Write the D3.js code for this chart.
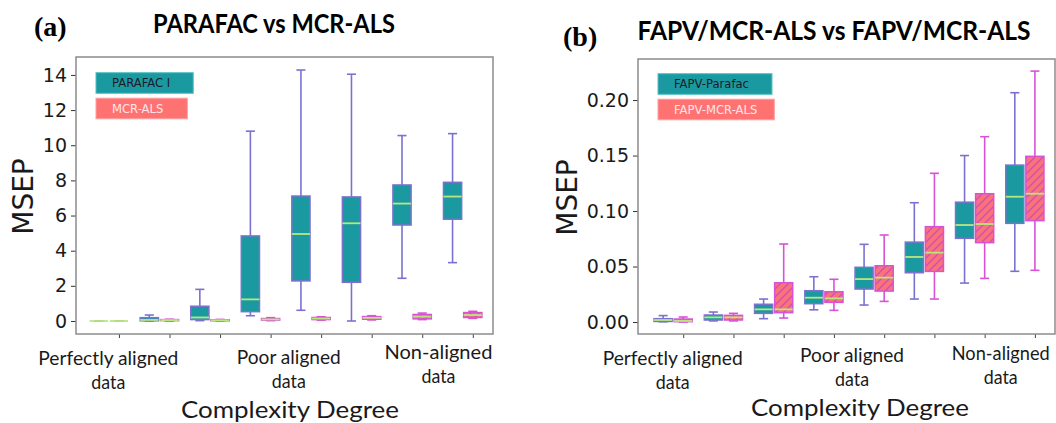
<!DOCTYPE html>
<html><head><meta charset="utf-8">
<script src="https://cdn.jsdelivr.net/npm/d3@7"></script>
<style>
html,body{margin:0;padding:0;background:#fff;}
svg{display:block;}
</style></head>
<body>
<svg id="chart" width="1056" height="423"></svg>
<script>
// ---------- data ----------
// each box: [whiskerLow, q1, median, q3, whiskerHigh]
const positions = [1, 2, 3, 4, 5, 6, 7, 8];
const parafacA = [
  [0, 0, 0, 0, 0],
  [0, 0.01, 0.06, 0.19, 0.34],
  [0.02, 0.08, 0.2, 0.84, 1.8],
  [0.3, 0.53, 1.23, 4.84, 10.8],
  [0.61, 2.28, 4.95, 7.11, 14.28],
  [0.0, 2.2, 5.56, 7.06, 14.04],
  [2.43, 5.46, 6.68, 7.74, 10.55],
  [3.32, 5.79, 7.08, 7.89, 10.66]
];
const mcrA = [
  [0, 0, 0, 0, 0],
  [0.0, 0.02, 0.05, 0.08, 0.1],
  [0.0, 0.01, 0.04, 0.07, 0.09],
  [0.02, 0.05, 0.09, 0.14, 0.19],
  [0.05, 0.08, 0.14, 0.2, 0.24],
  [0.06, 0.1, 0.18, 0.25, 0.3],
  [0.08, 0.12, 0.25, 0.37, 0.45],
  [0.15, 0.2, 0.34, 0.48, 0.55]
];
const parafacB = [
  [0.0002, 0.0005, 0.0018, 0.003, 0.0058],
  [0.001, 0.0018, 0.0042, 0.0063, 0.009],
  [0.003, 0.0078, 0.0114, 0.016, 0.0207],
  [0.011, 0.0165, 0.0219, 0.0282, 0.0408],
  [0.0153, 0.0297, 0.0387, 0.0493, 0.07],
  [0.0207, 0.0444, 0.0586, 0.072, 0.1075],
  [0.0351, 0.0754, 0.0874, 0.108, 0.15],
  [0.0457, 0.0889, 0.1129, 0.1414, 0.2066]
];
const mcrB = [
  [0.0, 0.0003, 0.001, 0.0027, 0.0045],
  [0.001, 0.0018, 0.0042, 0.006, 0.0078],
  [0.0036, 0.0084, 0.0114, 0.0354, 0.0703],
  [0.0105, 0.0177, 0.0213, 0.0273, 0.0385],
  [0.0186, 0.0279, 0.04, 0.0507, 0.0784],
  [0.0207, 0.0456, 0.0625, 0.0859, 0.134],
  [0.0393, 0.0715, 0.0883, 0.1156, 0.167],
  [0.0466, 0.0913, 0.1156, 0.1493, 0.2261]
];
const yTicksA = [0, 2, 4, 6, 8, 10, 12, 14];
const yTicksB = [0, 0.05, 0.1, 0.15, 0.2];
const groupLabels = [["Perfectly aligned", "data"], ["Poor aligned", "data"], ["Non-aligned", "data"]];
const groupPos = [0.79, 4.36, 7.32];
const legendA = ["PARAFAC I", "MCR-ALS"];
const legendB = ["FAPV-Parafac", "FAPV-MCR-ALS"];
const titles = ["PARAFAC vs MCR-ALS", "FAPV/MCR-ALS vs FAPV/MCR-ALS"];
const panelTags = ["(a)", "(b)"];
const yLabel = "MSEP";
const xLabel = "Complexity Degree";

// ---------- styles ----------
const C = {
  teal: "#1a9aa0", tealEdge: "#7b72cf",
  pink: "#ff7272", pinkEdge: "#d852d8", hatch: "#c04fd2",
  median: "#b9e77e", frame: "#8c8c8c", text: "#1a1a1a"
};
const svg = d3.select("#chart");
const defs = svg.append("defs");
const pat = defs.append("pattern").attr("id", "hatch").attr("patternUnits", "userSpaceOnUse")
  .attr("width", 8).attr("height", 8);
pat.append("rect").attr("width", 8).attr("height", 8).attr("fill", C.pink);
pat.append("path").attr("d", "M-2,2 l4,-4 M0,8 l8,-8 M6,10 l4,-4")
  .attr("stroke", C.hatch).attr("stroke-width", 1.3);

const calibri = "Lato, 'Open Sans', sans-serif";

function panel(cfg) {
  const g = svg.append("g");
  const x = d3.scaleLinear().domain(cfg.xDom).range([cfg.left, cfg.right]);
  const y = d3.scaleLinear().domain(cfg.yDom).range([cfg.bottom, cfg.top]);
  const bw = x(1.36) - x(1);

  // y axis
  const ya = g.append("g").attr("transform", `translate(${cfg.left},0)`)
    .call(d3.axisLeft(y).tickValues(cfg.yTicks).tickFormat(cfg.fmt).tickSize(5).tickPadding(4).tickSizeOuter(0));
  ya.select(".domain").remove();
  ya.selectAll("line").attr("stroke", "#333").attr("stroke-width", 1);
  ya.selectAll("text").attr("font-family", "'DejaVu Sans', sans-serif").attr("font-size", 19).attr("fill", C.text);

  // x axis ticks
  const xa = g.append("g").attr("transform", `translate(0,${cfg.bottom})`)
    .call(d3.axisBottom(x).tickValues(positions).tickFormat("").tickSize(4).tickSizeOuter(0));
  xa.select(".domain").remove();
  xa.selectAll("line").attr("stroke", "#444").attr("stroke-width", 1);

  // boxes
  function drawBoxes(data, offset, fill, edge) {
    const bg = g.append("g");
    data.forEach((d, i) => {
      const cx = x(positions[i] + offset);
      const [lo, q1, md, q3, hi] = d.map(y);
      const cap = bw * 0.5;
      bg.append("line").attr("x1", cx).attr("x2", cx).attr("y1", lo).attr("y2", q1)
        .attr("stroke", edge).attr("stroke-width", 1.6);
      bg.append("line").attr("x1", cx).attr("x2", cx).attr("y1", q3).attr("y2", hi)
        .attr("stroke", edge).attr("stroke-width", 1.6);
      bg.append("line").attr("x1", cx - cap / 2).attr("x2", cx + cap / 2).attr("y1", lo).attr("y2", lo)
        .attr("stroke", edge).attr("stroke-width", 1.6);
      bg.append("line").attr("x1", cx - cap / 2).attr("x2", cx + cap / 2).attr("y1", hi).attr("y2", hi)
        .attr("stroke", edge).attr("stroke-width", 1.6);
      bg.append("rect").attr("x", cx - bw / 2).attr("width", bw)
        .attr("y", q3).attr("height", Math.max(0, q1 - q3))
        .attr("fill", fill).attr("stroke", edge).attr("stroke-width", 1.5);
      bg.append("line").attr("x1", cx - bw / 2).attr("x2", cx + bw / 2).attr("y1", md).attr("y2", md)
        .attr("stroke", C.median).attr("stroke-width", 1.8);
    });
  }
  drawBoxes(cfg.s1, -0.4, C.teal, C.tealEdge);
  drawBoxes(cfg.s2, 0, "url(#hatch)", C.pinkEdge);

  // frame
  g.append("rect").attr("x", cfg.left).attr("y", cfg.top)
    .attr("width", cfg.right - cfg.left).attr("height", cfg.bottom - cfg.top)
    .attr("fill", "none").attr("stroke", C.frame).attr("stroke-width", 1.5);

  // legend
  const lg = g.append("g");
  cfg.legend.forEach((t, i) => {
    const yy = cfg.legY[i];
    const tx = lg.append("text").attr("x", cfg.legX + 16).attr("y", yy)
      .attr("dominant-baseline", "central")
      .attr("font-family", "'DejaVu Sans', sans-serif").attr("font-size", 11.6)
      .attr("fill", i === 0 ? "#1a1a2a" : "#ffe6e6").text(t);
    const w = tx.node().getComputedTextLength();
    lg.insert("rect", "text").attr("x", cfg.legX).attr("y", yy - 10.3)
      .attr("width", w + 16 + cfg.legPad[i]).attr("height", 20.6)
      .attr("fill", i === 0 ? C.teal : C.pink)
      .attr("stroke", i === 0 ? "#55c0c4" : "#ffa0a0").attr("stroke-width", 1);
  });

  // y label
  g.append("text").attr("transform", `translate(${cfg.yLabX},${(cfg.top + cfg.bottom) / 2 + 1}) rotate(-90)`)
    .attr("text-anchor", "middle").attr("dominant-baseline", "central")
    .attr("font-family", "'DejaVu Sans', sans-serif").attr("font-size", 28).attr("fill", C.text).text(yLabel);

  // group labels
  groupLabels.forEach((lines, i) => {
    lines.forEach((t, j) => {
      g.append("text").attr("x", x(groupPos[i])).attr("y", cfg.grpY[i] + j * 23.5)
        .attr("text-anchor", "middle").attr("font-family", calibri)
        .attr("font-size", (i === 2 && j === 0) ? 18.5 : 20)
        .attr("fill", C.text)
        .attr("textLength", j === 0 ? cfg.grpW[i] : 34).attr("lengthAdjust", "spacingAndGlyphs")
        .text(t);
    });
  });
  // x label
  g.append("text").attr("x", cfg.xLabX).attr("y", cfg.xLabY).attr("text-anchor", "middle")
    .attr("font-family", calibri).attr("font-size", 24).attr("fill", C.text)
    .attr("textLength", 218).attr("lengthAdjust", "spacingAndGlyphs").text(xLabel);

  // title + tag
  g.append("text").attr("x", cfg.titleX).attr("y", cfg.titleY).attr("text-anchor", "middle")
    .attr("font-family", calibri).attr("font-weight", "bold").attr("font-size", 26).attr("fill", "#000")
    .attr("textLength", cfg.titleW).attr("lengthAdjust", "spacingAndGlyphs").text(cfg.title);
  g.append("text").attr("x", cfg.tagX).attr("y", cfg.tagY)
    .attr("font-family", "'Liberation Serif', serif").attr("font-weight", "bold").attr("font-size", 28)
    .attr("fill", "#000").text(cfg.tag);
}

panel({
  left: 76, right: 493, top: 57, bottom: 334,
  xDom: [0.15, 8.4], yDom: [-0.74, 15.02], yTicks: yTicksA, fmt: d3.format("d"),
  s1: parafacA, s2: mcrA, legend: legendA, legX: 96, legY: [83, 108.5], legPad: [23, 24],
  yLabX: 23, grpY: [365, 364, 359], grpW: [140, 104, 108],
  xLabX: 290, xLabY: 418,
  title: titles[0], titleX: 274, titleY: 33, titleW: 242, tag: panelTags[0], tagX: 34, tagY: 36
});
panel({
  left: 638, right: 1055, top: 59, bottom: 334,
  xDom: [0.1, 8.4], yDom: [-0.0108, 0.237], yTicks: yTicksB, fmt: d3.format(".2f"),
  s1: parafacB, s2: mcrB, legend: legendB, legX: 658, legY: [84, 109.5], legPad: [23, 17],
  yLabX: 567, grpY: [365, 362, 360], grpW: [140, 104, 98],
  xLabX: 860, xLabY: 416,
  title: titles[1], titleX: 834, titleY: 40, titleW: 393, tag: panelTags[1], tagX: 563, tagY: 46
});
</script>
</body></html>
